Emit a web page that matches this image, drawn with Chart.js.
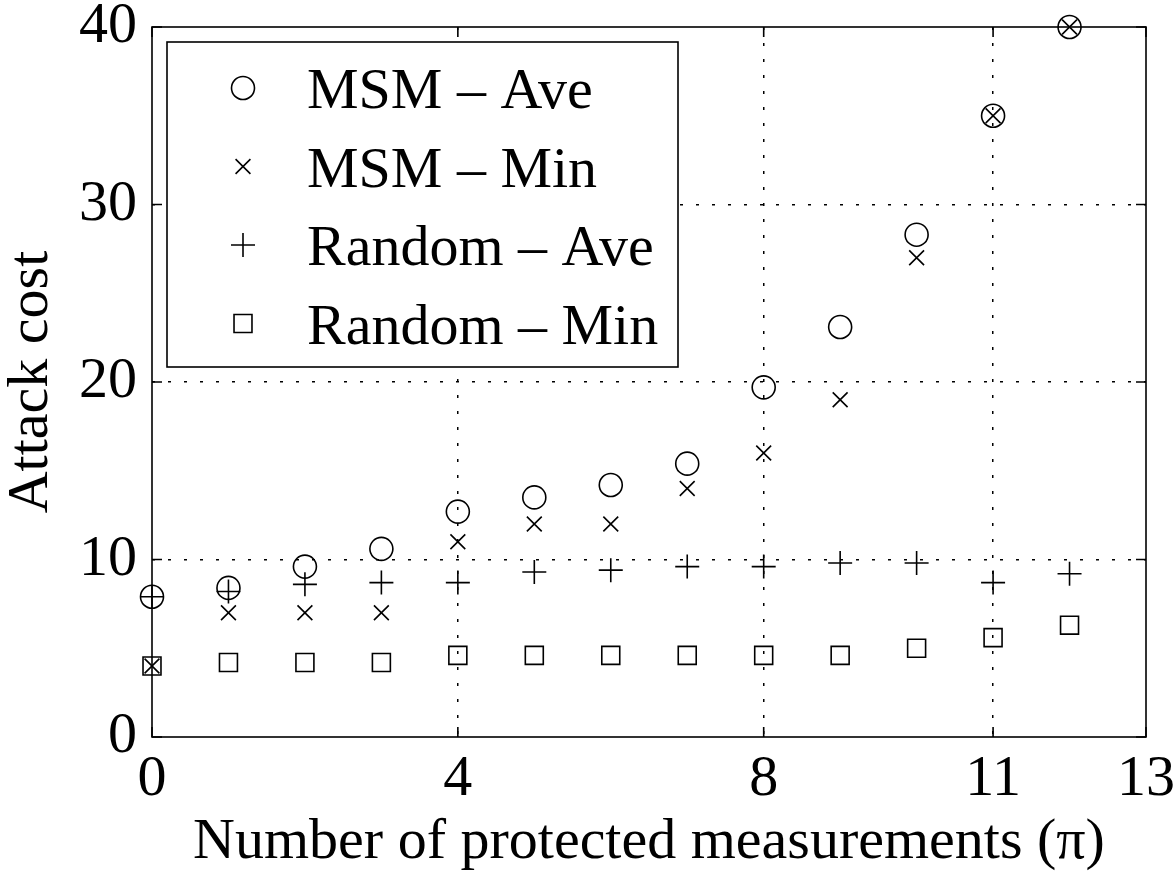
<!DOCTYPE html>
<html>
<head>
<meta charset="utf-8">
<script src="https://cdn.jsdelivr.net/npm/chart.js@4.4.1/dist/chart.umd.min.js"></script>
<style>
  html, body { margin: 0; padding: 0; background: #fff; }
  #wrap { width: 1174px; height: 872px; }
</style>
</head>
<body>
<div id="wrap"><canvas id="chart" width="1174" height="872"></canvas></div>
<script>
// values
const protectedCounts = [0, 1, 2, 3, 4, 5, 6, 7, 8, 9, 10, 11, 12];
const msmAve    = [7.9, 8.4, 9.6, 10.6, 12.7, 13.5, 14.2, 15.4, 19.7, 23.1, 28.3, 35.0, 40.0];
const msmMin    = [4.0, 7.0, 7.0, 7.0, 11.0, 12.0, 12.0, 14.0, 16.0, 19.0, 27.0, 35.0, 40.0];
const randomAve = [7.9, 8.2, 8.6, 8.7, 8.7, 9.3, 9.4, 9.6, 9.6, 9.8, 9.8, 8.7, 9.2];
const randomMin = [4.0, 4.2, 4.2, 4.2, 4.6, 4.6, 4.6, 4.6, 4.6, 4.6, 5.0, 5.6, 6.3];
const xTickValues = [0, 4, 8, 11, 13];
const yTickValues = [0, 10, 20, 30, 40];
const seriesLabels = ['MSM \u2013 Ave', 'MSM \u2013 Min', 'Random \u2013 Ave', 'Random \u2013 Min'];

const FONT = '"Liberation Serif", "Times New Roman", serif';

function toPoints(ys) {
  return protectedCounts.map((x, i) => ({ x: x, y: ys[i] }));
}

function marker(label, ys, style, radius) {
  return {
    label: label,
    data: toPoints(ys),
    showLine: false,
    pointStyle: style,
    pointRadius: radius,
    pointHoverRadius: radius,
    pointBorderWidth: 1.6,
    pointBorderColor: '#000',
    pointBackgroundColor: 'rgba(0,0,0,0)',
    clip: false
  };
}

// box round the plot plus short inward tick marks, matlab style
const frameTicks = {
  id: 'frameTicks',
  beforeDatasetsDraw(chart) {
    const { ctx, chartArea: a, scales } = chart;
    ctx.save();
    ctx.strokeStyle = '#000';
    ctx.lineWidth = 1.6;
    ctx.strokeRect(a.left, a.top, a.right - a.left, a.bottom - a.top);
    const len = 10;
    ctx.beginPath();
    xTickValues.forEach(v => {
      const px = scales.x.getPixelForValue(v);
      ctx.moveTo(px, a.bottom); ctx.lineTo(px, a.bottom - len);
      ctx.moveTo(px, a.top); ctx.lineTo(px, a.top + len);
    });
    yTickValues.forEach(v => {
      const py = scales.y.getPixelForValue(v);
      ctx.moveTo(a.left, py); ctx.lineTo(a.left + len, py);
      ctx.moveTo(a.right, py); ctx.lineTo(a.right - len, py);
    });
    ctx.stroke();
    ctx.restore();
  }
};

// legend drawn inside the axes with a framed white box
const boxedLegend = {
  id: 'boxedLegend',
  afterDatasetsDraw(chart) {
    const { ctx, chartArea: a } = chart;
    const left = a.left + 15, top = a.top + 15, w = 511, h = 325;
    ctx.save();
    ctx.fillStyle = '#fff';
    ctx.fillRect(left, top, w, h);
    ctx.strokeStyle = '#000';
    ctx.lineWidth = 1.6;
    ctx.strokeRect(left, top, w, h);
    ctx.font = '58px ' + FONT;
    ctx.textBaseline = 'alphabetic';
    ctx.textAlign = 'left';
    chart.data.datasets.forEach((ds, i) => {
      const cy = top + 46 + i * 78.5;
      ctx.fillStyle = 'rgba(0,0,0,0)';
      ctx.strokeStyle = '#000';
      ctx.lineWidth = ds.pointBorderWidth;
      Chart.helpers.drawPoint(ctx, {
        pointStyle: ds.pointStyle,
        radius: ds.pointRadius,
        borderWidth: ds.pointBorderWidth,
        rotation: 0
      }, left + 76, cy);
      ctx.fillStyle = '#000';
      ctx.fillText(ds.label, left + 140, cy + 20);
    });
    ctx.restore();
  }
};

const gridEdge = (ctx, last) =>
  (ctx.tick && (ctx.tick.value === 0 || ctx.tick.value === last)) ? 'rgba(0,0,0,0)' : '#000';

new Chart(document.getElementById('chart'), {
  type: 'scatter',
  data: {
    datasets: [
      marker(seriesLabels[0], msmAve, 'circle', 11.5),
      marker(seriesLabels[1], msmMin, 'crossRot', 10.5),
      marker(seriesLabels[2], randomAve, 'cross', 12),
      marker(seriesLabels[3], randomMin, 'rect', 12.7)
    ]
  },
  options: {
    responsive: false,
    animation: false,
    devicePixelRatio: 1,
    layout: { padding: { left: 0, right: 28, top: 27, bottom: 0 } },
    plugins: {
      legend: { display: false },
      tooltip: { enabled: false }
    },
    scales: {
      x: {
        type: 'linear',
        min: 0,
        max: 13,
        afterBuildTicks: s => { s.ticks = xTickValues.map(v => ({ value: v })); },
        afterFit: s => { s.height = 135; s.paddingLeft = 0; s.paddingRight = 0; },
        border: { display: false, dash: [3, 13] },
        grid: {
          drawTicks: false,
          color: c => gridEdge(c, 13),
          lineWidth: 1.5
        },
        ticks: {
          padding: 8,
          color: '#000',
          font: { family: FONT, size: 58 },
          maxRotation: 0
        },
        title: {
          display: true,
          text: 'Number of protected measurements (\u03c0)',
          color: '#000',
          font: { family: FONT, size: 58, lineHeight: 1 },
          padding: 0
        }
      },
      y: {
        type: 'linear',
        min: 0,
        max: 40,
        afterBuildTicks: s => { s.ticks = yTickValues.map(v => ({ value: v })); },
        afterFit: s => { s.width = 152; s.paddingTop = 0; s.paddingBottom = 0; },
        border: { display: false, dash: [3, 13] },
        grid: {
          drawTicks: false,
          color: c => gridEdge(c, 40),
          lineWidth: 1.5
        },
        ticks: {
          padding: 15,
          color: '#000',
          font: { family: FONT, size: 58, lineHeight: 1 }
        },
        title: {
          display: true,
          text: 'Attack cost',
          color: '#000',
          font: { family: FONT, size: 58, lineHeight: 1.1 },
          padding: 0
        }
      }
    }
  },
  plugins: [frameTicks, boxedLegend]
});
</script>
</body>
</html>
